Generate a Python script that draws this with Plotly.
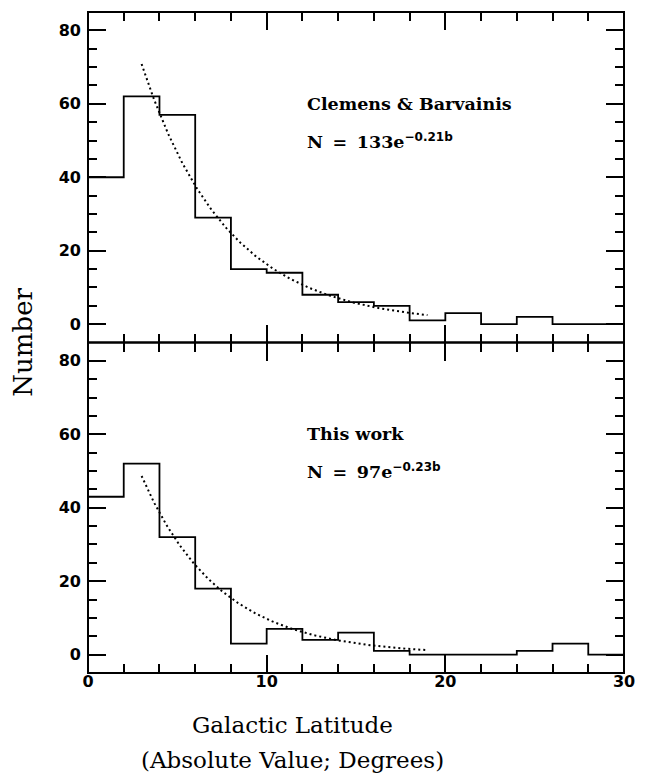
import numpy as np
import plotly.graph_objects as go

# Bin edges in galactic latitude |b| (degrees), 2-degree bins
bin_edges = list(range(0, 32, 2))

# Counts per bin
counts_cb = [40, 62, 57, 29, 15, 14, 8, 6, 5, 1, 3, 0, 2, 0, 0]      # Clemens & Barvainis
counts_this = [43, 52, 32, 18, 3, 7, 4, 6, 1, 0, 0, 0, 1, 3, 0]      # This work

# Exponential fits N = A * exp(-k b)
fit_cb = {"A": 133, "k": 0.21}
fit_this = {"A": 97, "k": 0.23}
fit_range = (3, 19)

BLACK = "black"
SERIF = "DejaVu Serif"
SANS = "DejaVu Sans"


def step_xy(counts):
    # histogram outline: one point per left edge, closing at the last edge
    return bin_edges, counts + [counts[-1]]


def fit_xy(p):
    b = np.linspace(fit_range[0], fit_range[1], 200)
    return b, p["A"] * np.exp(-p["k"] * b)


fig = go.Figure()

for counts, fit, xa, ya in [(counts_cb, fit_cb, "x", "y"), (counts_this, fit_this, "x2", "y2")]:
    hx, hy = step_xy(counts)
    fig.add_trace(go.Scatter(x=hx, y=hy, mode="lines", line=dict(shape="hv", color=BLACK, width=1.8),
                             xaxis=xa, yaxis=ya, showlegend=False, hoverinfo="skip"))
    fx, fy = fit_xy(fit)
    fig.add_trace(go.Scatter(x=fx, y=fy, mode="lines", line=dict(color=BLACK, width=2, dash="2px,3px"),
                             xaxis=xa, yaxis=ya, showlegend=False, hoverinfo="skip"))

tickfont = dict(family=SANS, size=16, color=BLACK, weight="bold")

# Frames are drawn as shapes so the shared middle edge is a single line
common_x = dict(range=[0, 30], tick0=0, dtick=10, ticks="inside", ticklen=18, tickwidth=1.6,
                tickcolor=BLACK, showline=False, mirror="ticks",
                showgrid=False, zeroline=False,
                minor=dict(dtick=2, tick0=0, ticks="inside", ticklen=9, tickwidth=1.6, tickcolor=BLACK,
                           showgrid=False))
common_y = dict(range=[-5, 85], tick0=0, dtick=20, ticks="inside", ticklen=18, tickwidth=1.6,
                tickcolor=BLACK, showline=False, mirror="ticks",
                showgrid=False, zeroline=False, tickfont=tickfont, ticklabelstandoff=6,
                minor=dict(dtick=5, tick0=0, ticks="inside", ticklen=9, tickwidth=1.6, tickcolor=BLACK,
                           showgrid=False))

fig.update_layout(
    width=647, height=777,
    margin=dict(l=88, r=14, t=12, b=104),
    paper_bgcolor="white", plot_bgcolor="white",
    xaxis=dict(common_x, domain=[0, 1], anchor="y", showticklabels=False, matches="x2"),
    yaxis=dict(common_y, domain=[0.5, 1], anchor="x"),
    xaxis2=dict(common_x, domain=[0, 1], anchor="y2", showticklabels=True, tickfont=tickfont,
                ticklabelstandoff=-3),
    yaxis2=dict(common_y, domain=[0, 0.5], anchor="x2"),
)

for y0, y1 in [(0.5, 1.0), (0.0, 0.5)]:
    fig.add_shape(type="rect", xref="paper", yref="paper", x0=0, x1=1, y0=y0, y1=y1,
                  line=dict(color=BLACK, width=2), fillcolor="rgba(0,0,0,0)", layer="above")

label_font = dict(family=SERIF, size=17.5, color=BLACK, weight="bold")
sup_style = "font-family:'DejaVu Sans';font-size:12px;font-weight:bold"
NB = "\u00a0"
SP = NB + "\u2009"
for xr, yr, name, fit in [("x", "y", "Clemens & Barvainis", fit_cb), ("x2", "y2", "This work", fit_this)]:
    fig.add_annotation(x=12.15, y=60, xref=xr, yref=yr, text=name, showarrow=False,
                       xanchor="left", yanchor="middle", font=label_font)
    fig.add_annotation(x=12.15, y=50, xref=xr, yref=yr,
                       text=(f"N{SP}={SP}{fit['A']}e"
                             f"<sup><span style=\"{sup_style}\">\u2212{fit['k']:.2f}b</span></sup>"),
                       showarrow=False, xanchor="left", yanchor="middle", font=label_font)

title_font = dict(family=SERIF, size=23, color=BLACK)
fig.add_annotation(x=0.382, y=-0.0787, xref="paper", yref="paper", text="Galactic Latitude",
                   showarrow=False, xanchor="center", yanchor="middle", font=title_font)
fig.add_annotation(x=0.382, y=-0.1316, xref="paper", yref="paper", text="(Absolute Value; Degrees)",
                   showarrow=False, xanchor="center", yanchor="middle", font=title_font)
fig.add_annotation(x=-0.1229, y=0.5, xref="paper", yref="paper", text="Number", textangle=-90,
                   showarrow=False, xanchor="center", yanchor="middle",
                   font=dict(family=SERIF, size=26, color=BLACK))

fig.write_html("out.html")
